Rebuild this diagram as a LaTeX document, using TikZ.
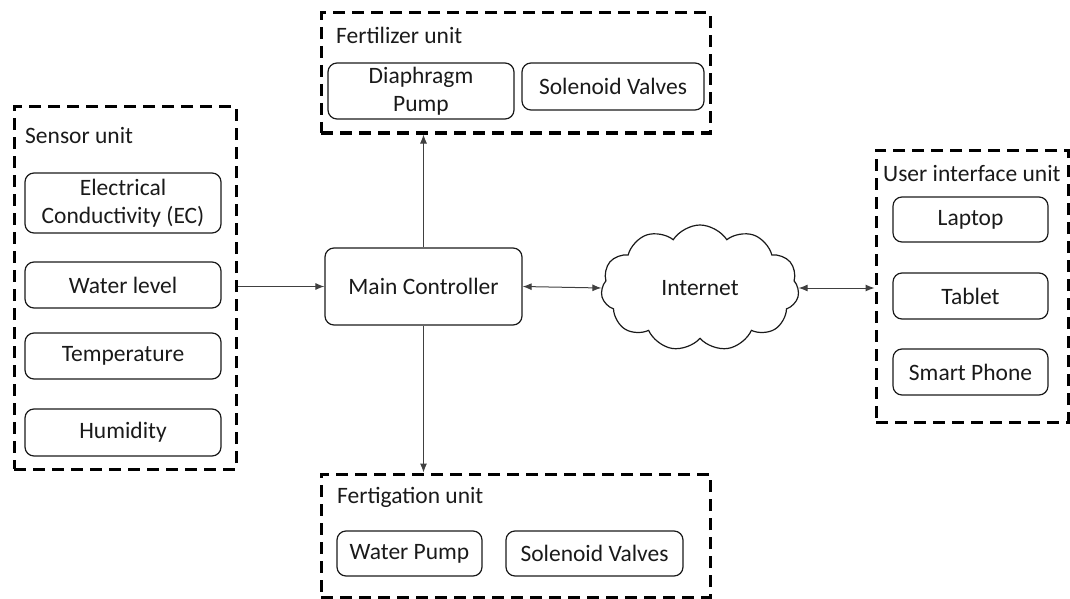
\documentclass[tikz,border=0pt]{standalone}
\usepackage{fontspec}
\setmainfont{Carlito}
\usetikzlibrary{shapes.symbols,arrows.meta}
\definecolor{txt}{HTML}{1A1A1A}
\tikzset{
  unitbox/.style={draw=black, line width=3pt, dash pattern=on 12pt off 7pt},
  item/.style={draw=txt, line width=1.2pt, rounded corners=9pt, text=txt, align=center, inner sep=0pt, font=\fontsize{23.5}{28}\selectfont},
  unitlabel/.style={anchor=west, text=txt, inner sep=0pt, font=\fontsize{23.5}{28}\selectfont},
  conn/.style={draw=black!75, line width=1pt},
  >={Latex[length=9pt,width=7pt]},
}
\begin{document}
\begin{tikzpicture}[x=1pt,y=-1pt]
\useasboundingbox (0,0) rectangle (1070,599);
% unit boxes
\node[unitbox, minimum width=222pt, minimum height=362pt] (sensor) at (125,288) {};
\node[unitbox, minimum width=389pt, minimum height=120pt] (fert) at (515.5,73) {};
\node[unitbox, minimum width=389pt, minimum height=123pt] (fertig) at (515.5,535.5) {};
\node[unitbox, minimum width=192pt, minimum height=272pt] (ui) at (972,286) {};
% labels
\node[unitlabel] (lsensor) at (25,136) {Sensor unit};
\node[unitlabel] (lfert) at (336,35) {Fertilizer unit};
\node[unitlabel] (lfertig) at (337,497) {Fertigation unit};
\node[unitlabel] (lui) at (883,174) {User interface unit};
% sensor items
\node[item, minimum width=196pt, minimum height=60pt] (ec) at (123,203) {Electrical\\Conductivity (EC)};
\node[item, minimum width=196pt, minimum height=46pt] (wl) at (123,285) {Water level};
\node[item, minimum width=196pt, minimum height=46pt] (temp) at (123,356) {Temperature};
\node[item, minimum width=196pt, minimum height=47pt] (hum) at (123,432.5) {Humidity};
% fertilizer items
\node[item, minimum width=186pt, minimum height=56pt] (dp) at (421,91) {Diaphragm\\Pump};
\node[item, minimum width=182pt, minimum height=47pt] (sv1) at (613,86.5) {Solenoid Valves};
% fertigation items
\node[item, minimum width=145pt, minimum height=45pt] (wp) at (409.5,553.5) {Water Pump};
\node[item, minimum width=177pt, minimum height=45pt] (sv2) at (594.5,553.5) {Solenoid Valves};
% ui items
\node[item, minimum width=155pt, minimum height=45pt] (lap) at (970.5,219.5) {Laptop};
\node[item, minimum width=155pt, minimum height=46pt] (tab) at (970.5,296) {Tablet};
\node[item, minimum width=155pt, minimum height=46pt] (sp) at (970.5,372) {Smart Phone};
% main controller
\node[item, minimum width=197pt, minimum height=77pt] (mc) at (423.5,286.5) {Main Controller};
% cloud
\node[cloud, draw=txt, line width=1.2pt, cloud puffs=11, cloud puff arc=115, minimum width=198pt, minimum height=126pt, inner sep=0pt, text=txt, font=\fontsize{23.5}{28}\selectfont] (net) at (700,288) {Internet};
% connectors
\draw[conn, ->] (sensor.east |- mc.west) -- (mc.west);
\draw[conn, ->] (mc.north) -- (fert.south -| mc.north);
\draw[conn, ->] (mc.south) -- (fertig.north -| mc.south);
\draw[conn, <->] (mc.east) -- (net.west);
\draw[conn, <->] (net.east) -- (ui.west |- net.east);
\end{tikzpicture}
\end{document}
